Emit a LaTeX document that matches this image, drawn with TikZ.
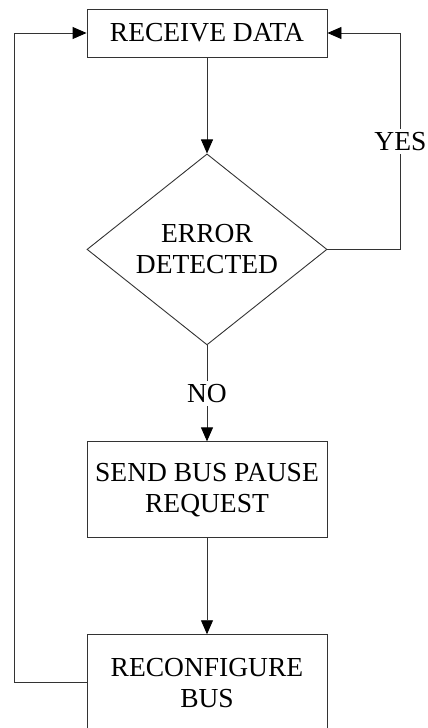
\documentclass[tikz,border=0pt]{standalone}
\usepackage{fontspec}
\setmainfont{Liberation Serif}
\usetikzlibrary{arrows.meta,positioning,shapes.geometric}

\tikzset{
  stepbox/.style={draw=black!80, line width=0.9pt, minimum width=240pt, align=center},
  decision/.style={diamond, draw=black!80, line width=0.9pt, aspect=1.26,
    minimum width=240pt, minimum height=191pt, inner sep=0pt, align=center},
  link/.style={draw=black!80, line width=0.9pt},
  answer/.style={fill=white}
}

\begin{document}
\begin{tikzpicture}[x=1pt,y=1pt,>={Triangle[length=14pt,width=12pt,fill=black,color=black]},
    node distance=96pt, font=\fontsize{27.5}{31}\selectfont]
  \useasboundingbox (0,0) rectangle (428,-728);

  \node[stepbox, minimum height=48pt] (receive) at (207,-33) {RECEIVE DATA};
  \node[decision] (error)   [below=of receive] {ERROR\\DETECTED};
  \node[stepbox, minimum height=96pt] (pause)   [below=of error]   {SEND BUS PAUSE\\REQUEST};
  \node[stepbox, minimum height=96pt] (reconf)  [below=of pause]   {RECONFIGURE\\BUS};

  \draw[link,->] (receive) -- (error);
  \draw[link,->] (error) -- node[answer] {NO} (pause);
  \draw[link,->] (pause) -- (reconf);
  \draw[link,->] (error.east) -- ++(73,0) |- node[answer, pos=0.25] {YES} (receive.east);
  \draw[link,->] (reconf.west) -- ++(-72,0) |- (receive.west);
\end{tikzpicture}
\end{document}
